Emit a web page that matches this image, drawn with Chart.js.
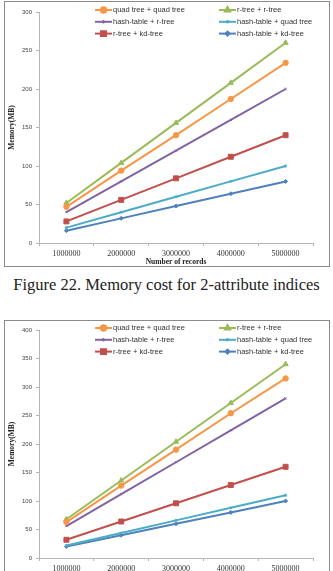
<!DOCTYPE html>
<html>
<head>
<meta charset="utf-8">
<script src="https://cdn.jsdelivr.net/npm/chart.js@4.4.1/dist/chart.umd.min.js"></script>
<style>
  html, body { margin: 0; padding: 0; background: #fff; }
  body { width: 333px; height: 571px; overflow: hidden; position: relative; }
  .box { position: absolute; left: 4px; width: 324px; height: 264px; border: 1px solid #8a8a8a; }
  #box1 { top: 1px; }
  #box2 { top: 320px; }
  .caption { position: absolute; left: 0; width: 333px; top: 276px; line-height: 18px;
    text-align: center; font-family: "Liberation Serif", serif; font-size: 16.5px; color: #222; }
</style>
</head>
<body>
<div class="box" id="box1"><canvas id="chart1"></canvas></div>
<div class="caption">Figure 22. Memory cost for 2-attribute indices</div>
<div class="box" id="box2"><canvas id="chart2"></canvas></div>
<script>
// categories (number of records)
var categories = ['1000000', '2000000', '3000000', '4000000', '5000000'];
var seriesNames = ['quad tree + quad tree', 'r-tree + r-tree', 'hash-table + r-tree',
                   'hash-table + quad tree', 'r-tree + kd-tree', 'hash-table + kd-tree'];

// Figure 22: 2-attribute indices, memory (MB)
var quadQuad2 = [47, 94, 140, 187, 234];
var rtreeRtree2 = [52, 104, 156, 208, 260];
var hashRtree2 = [40, 80, 120, 160, 200];
var hashQuad2 = [20, 40, 60, 80, 100];
var rtreeKd2 = [28, 56, 84, 112, 140];
var hashKd2 = [16, 32, 48, 64, 80];

// second figure, memory (MB)
var quadQuad3 = [63, 127, 190, 254, 315];
var rtreeRtree3 = [68, 136, 204, 272, 340];
var hashRtree3 = [56, 112, 168, 224, 280];
var hashQuad3 = [22, 44, 66, 88, 110];
var rtreeKd3 = [32, 64, 96, 128, 160];
var hashKd3 = [20, 40, 60, 80, 100];

var yMax2 = 300, yMax3 = 400, yStep = 50;

var colors = ['#F79646', '#9BBB59', '#8064A2', '#4BACC6', '#C0504D', '#4F81BD'];
var markers = ['circle', 'triangle', 'crossRot', 'star', 'rect', 'rectRot'];
var markerSizes = [2.7, 3, 1.5, 1.5, 3.5, 2];

// draws the two-column legend over the top of the plot
var legendPlugin = {
  id: 'twoColLegend',
  afterDraw: function(chart) {
    var ctx = chart.ctx;
    var area = chart.chartArea;
    ctx.save();
    ctx.font = '7.5px "Liberation Sans", Arial, sans-serif';
    ctx.textBaseline = 'middle';
    chart.data.datasets.forEach(function(ds, i) {
      var col = i % 2, row = Math.floor(i / 2);
      var x = area.left + 56 + col * 124;
      var y = area.top - 2 + row * 11.8;
      ctx.strokeStyle = ds.borderColor;
      ctx.lineWidth = 2;
      ctx.beginPath();
      ctx.moveTo(x, y);
      ctx.lineTo(x + 17, y);
      ctx.stroke();
      ctx.fillStyle = ds.borderColor;
      Chart.helpers.drawPoint(ctx, {pointStyle: ds.pointStyle, radius: ds.pointRadius, rotation: 0, borderWidth: 1}, x + 8.5, y);
      ctx.fillStyle = '#333';
      ctx.fillText(ds.label, x + 18, y);
    });
    ctx.restore();
  }
};

function makeChart(canvasId, seriesList, yMax, padTop, padBottom) {
  var datasets = seriesList.map(function(values, i) {
    return {
      label: seriesNames[i],
      data: values,
      borderColor: colors[i],
      backgroundColor: colors[i],
      pointBackgroundColor: colors[i],
      pointBorderColor: colors[i],
      pointStyle: markers[i],
      pointRadius: markerSizes[i],
      pointBorderWidth: 1,
      borderWidth: 2,
      tension: 0
    };
  });
  return new Chart(document.getElementById(canvasId), {
    type: 'line',
    data: { labels: categories, datasets: datasets },
    plugins: [legendPlugin],
    options: {
      responsive: true,
      maintainAspectRatio: false,
      animation: false,
      layout: { padding: { top: padTop, right: 16, left: 0, bottom: padBottom } },
      plugins: { legend: { display: false }, tooltip: { enabled: false } },
      scales: {
        x: {
          offset: true,
          afterFit: function(scale) { scale.height = 23; },
          grid: { drawOnChartArea: false, tickLength: 3, color: '#b5b5b5', offset: true },
          border: { color: '#b5b5b5' },
          ticks: { padding: 3, maxRotation: 0, color: '#333',
                   font: { family: '"Liberation Serif", serif', size: 8 } },
          title: { display: true, text: 'Number of records', color: '#222', padding: 0,
                   font: { family: '"Liberation Serif", serif', size: 7.5, weight: 'bold', lineHeight: 1 } }
        },
        y: {
          min: 0,
          max: yMax,
          afterFit: function(scale) { scale.width = 34; },
          grid: { drawOnChartArea: false, tickLength: 3, color: '#b5b5b5' },
          border: { color: '#b5b5b5' },
          ticks: { stepSize: yStep, padding: 4, color: '#444',
                   font: { family: '"Liberation Sans", Arial, sans-serif', size: 6 } },
          title: { display: true, text: 'Memory(MB)', color: '#222', padding: { top: 2.5, bottom: 0 },
                   font: { family: '"Liberation Serif", serif', size: 7.5, weight: 'bold' } }
        }
      }
    }
  });
}

makeChart('chart1', [quadQuad2, rtreeRtree2, hashRtree2, hashQuad2, rtreeKd2, hashKd2], yMax2, 10, 0);
makeChart('chart2', [quadQuad3, rtreeRtree3, hashRtree3, hashQuad3, rtreeKd3, hashKd3], yMax3, 9, 4);
</script>
</body>
</html>
